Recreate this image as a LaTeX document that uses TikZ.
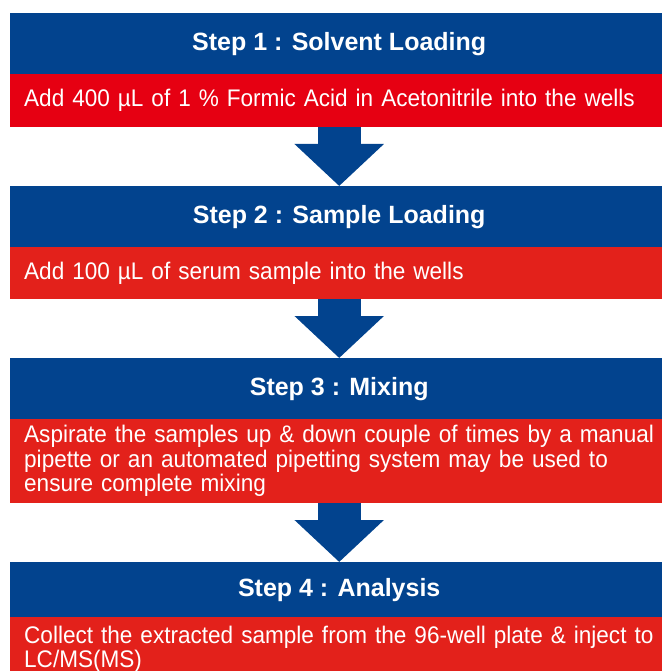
\documentclass[tikz,border=0pt]{standalone}
\usepackage{fontspec}
\setmainfont{Liberation Sans}
\newfontfamily\narrowfont[FakeStretch=0.94]{Liberation Sans}
\usetikzlibrary{arrows.meta}
\definecolor{stepblue}{HTML}{02438E}
\definecolor{firstred}{HTML}{E60012}
\definecolor{stepred}{HTML}{E3211B}
\begin{document}
\begin{tikzpicture}[x=1pt,y=-1pt,
  head/.style={fill=stepblue,text=white,font=\fontsize{25}{28}\selectfont\bfseries,
    minimum width=658pt,minimum height=61pt,inner sep=0pt,anchor=north west},
  body/.style={fill=stepred,text=white,font=\narrowfont\fontsize{24}{24.5}\selectfont,
    text width=645pt,align=left,inner xsep=14pt,inner ysep=0pt,anchor=north west},
  down/.style={stepblue,line width=43pt,-{Triangle[length=42pt,width=87pt]}}]
  \useasboundingbox (0,0) rectangle (661,671);
  \node[head] (head1) at (10,13) {Step 1 : Solvent Loading};
  \node[body,fill=firstred,minimum height=53pt] (body1) at (10,74) {Add 400 µL of 1 \% Formic Acid in Acetonitrile into the wells};
  \node[head] (head2) at (10,186) {Step 2 : Sample Loading};
  \node[body,minimum height=52pt] (body2) at (10,247) {Add 100 µL of serum sample into the wells};
  \node[head] (head3) at (10,358) {Step 3 : Mixing};
  \node[body,minimum height=84pt] (body3) at (10,419) {Aspirate the samples up \& down couple of times by a manual\\pipette or an automated pipetting system may be used to\\ensure complete mixing};
  \node[head,minimum height=55pt] (head4) at (10,562) {Step 4 : Analysis};
  \node[body,minimum height=64pt,font=\narrowfont\fontsize{24}{21}\selectfont] (body4) at (10,617) {Collect the extracted sample from the 96-well plate \& inject to\\LC/MS(MS)};
  \foreach \i/\j in {1/2,2/3,3/4} {\draw[down] (head\j.north |- body\i.south) -- (head\j.north);}
\end{tikzpicture}
\end{document}
